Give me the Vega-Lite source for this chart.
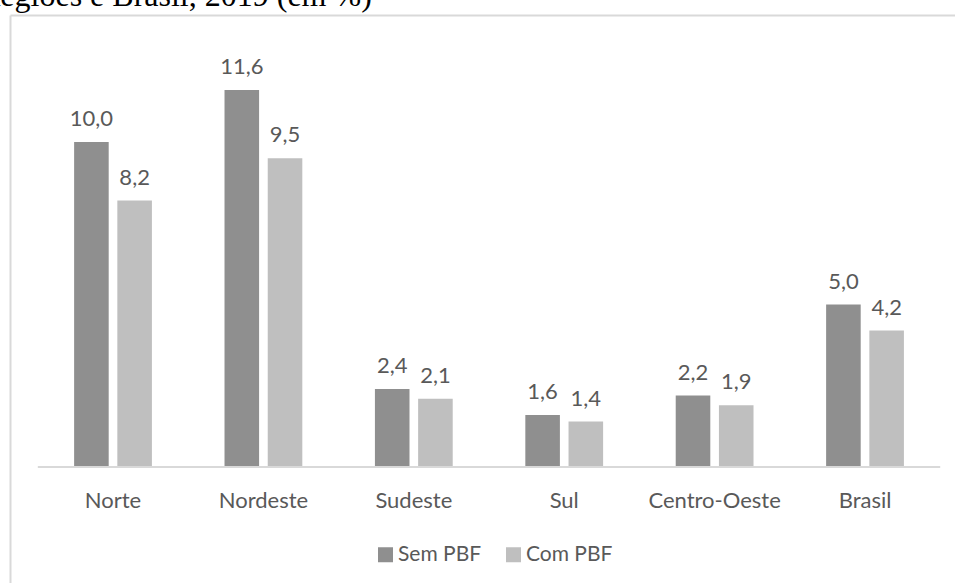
{
  "$schema": "https://vega.github.io/schema/vega-lite/v6.json",
  "autosize": {"type": "none"},
  "padding": {"left": 10, "top": 15, "right": 0, "bottom": 0},
  "width": 945,
  "height": 568,
  "title": {
    "text": "Regiões e Brasil, 2019 (em %)",
    "anchor": "start",
    "frame": "group",
    "font": "Liberation Serif",
    "fontSize": 32,
    "fontWeight": "normal",
    "color": "#000000",
    "baseline": "alphabetic",
    "offset": 0,
    "dx": -31,
    "dy": 23
  },
  "config": {
    "view": {"stroke": null},
    "axis": {
      "domainColor": "#d9d9d9",
      "domainWidth": 2,
      "ticks": false,
      "grid": false,
      "title": null
    },
    "locale": {
      "number": {"decimal": ",", "thousands": ".", "grouping": [3], "currency": ["R$", ""]}
    }
  },
  "datasets": {
    "pobreza": [
      {"regiao": "Norte", "serie": "Sem PBF", "valor": 10.0},
      {"regiao": "Norte", "serie": "Com PBF", "valor": 8.2},
      {"regiao": "Nordeste", "serie": "Sem PBF", "valor": 11.6},
      {"regiao": "Nordeste", "serie": "Com PBF", "valor": 9.5},
      {"regiao": "Sudeste", "serie": "Sem PBF", "valor": 2.4},
      {"regiao": "Sudeste", "serie": "Com PBF", "valor": 2.1},
      {"regiao": "Sul", "serie": "Sem PBF", "valor": 1.6},
      {"regiao": "Sul", "serie": "Com PBF", "valor": 1.4},
      {"regiao": "Centro-Oeste", "serie": "Sem PBF", "valor": 2.2},
      {"regiao": "Centro-Oeste", "serie": "Com PBF", "valor": 1.9},
      {"regiao": "Brasil", "serie": "Sem PBF", "valor": 5.0},
      {"regiao": "Brasil", "serie": "Com PBF", "valor": 4.2}
    ],
    "base": [
      {"de": "Norte", "ate": "Brasil", "zero": 0}
    ]
  },
  "layer": [
    {
      "data": {"name": "pobreza"},
      "mark": {"type": "bar"},
      "encoding": {
        "x": {
          "field": "regiao",
          "type": "nominal",
          "scale": {
            "domain": ["Norte", "Nordeste", "Sudeste", "Sul", "Centro-Oeste", "Brasil"],
            "paddingInner": 0,
            "paddingOuter": 0.1416,
            "align": 0.653
          },
          "axis": {
            "orient": "bottom",
            "title": null,
            "domain": false,
            "ticks": false,
            "grid": false,
            "offset": -116,
            "labelPadding": 23,
            "labelFont": "Lato",
            "labelFontSize": 22,
            "labelColor": "#595959",
            "labelAngle": 0
          }
        },
        "xOffset": {
          "field": "serie",
          "type": "nominal",
          "scale": {"domain": ["Sem PBF", "Com PBF"], "paddingInner": 0.2, "paddingOuter": 0.84}
        },
        "y": {
          "field": "valor",
          "type": "quantitative",
          "scale": {"domain": [-3.57, 13.91], "nice": false, "zero": false},
          "axis": {
            "orient": "left",
            "title": null,
            "labels": false,
            "ticks": false,
            "grid": false,
            "domain": true,
            "domainColor": "#d9d9d9",
            "domainWidth": 2
          }
        },
        "color": {
          "field": "serie",
          "type": "nominal",
          "scale": {"domain": ["Sem PBF", "Com PBF"], "range": ["#8f8f8f", "#bfbfbf"]},
          "legend": {
            "orient": "none",
            "legendX": 365,
            "legendY": 529,
            "direction": "horizontal",
            "title": null,
            "padding": 0,
            "symbolType": "square",
            "symbolSize": 225,
            "symbolStrokeWidth": 0,
            "symbolOpacity": 1,
            "labelFont": "Lato",
            "labelFontSize": 21,
            "labelColor": "#595959",
            "labelOffset": 2,
            "columnPadding": 21
          }
        }
      }
    },
    {
      "data": {"name": "pobreza"},
      "mark": {
        "type": "text",
        "font": "Lato",
        "fontSize": 22,
        "color": "#595959",
        "baseline": "alphabetic",
        "align": "center",
        "dy": -16
      },
      "encoding": {
        "x": {
          "field": "regiao",
          "type": "nominal",
          "axis": {
            "orient": "top",
            "title": null,
            "labels": false,
            "ticks": false,
            "grid": false,
            "domain": true,
            "domainColor": "#d9d9d9",
            "domainWidth": 2
          }
        },
        "xOffset": {"field": "serie", "type": "nominal"},
        "y": {"field": "valor", "type": "quantitative", "axis": null},
        "text": {"field": "valor", "type": "quantitative", "format": ".1f"}
      }
    },
    {
      "data": {"name": "base"},
      "mark": {"type": "rule", "color": "#d9d9d9", "strokeWidth": 2},
      "encoding": {
        "x": {"field": "de", "type": "nominal", "bandPosition": 0, "axis": null},
        "x2": {"field": "ate", "bandPosition": 1},
        "y": {"field": "zero", "type": "quantitative", "axis": null}
      }
    }
  ],
  "resolve": {"axis": {"x": "independent", "y": "independent"}}
}
